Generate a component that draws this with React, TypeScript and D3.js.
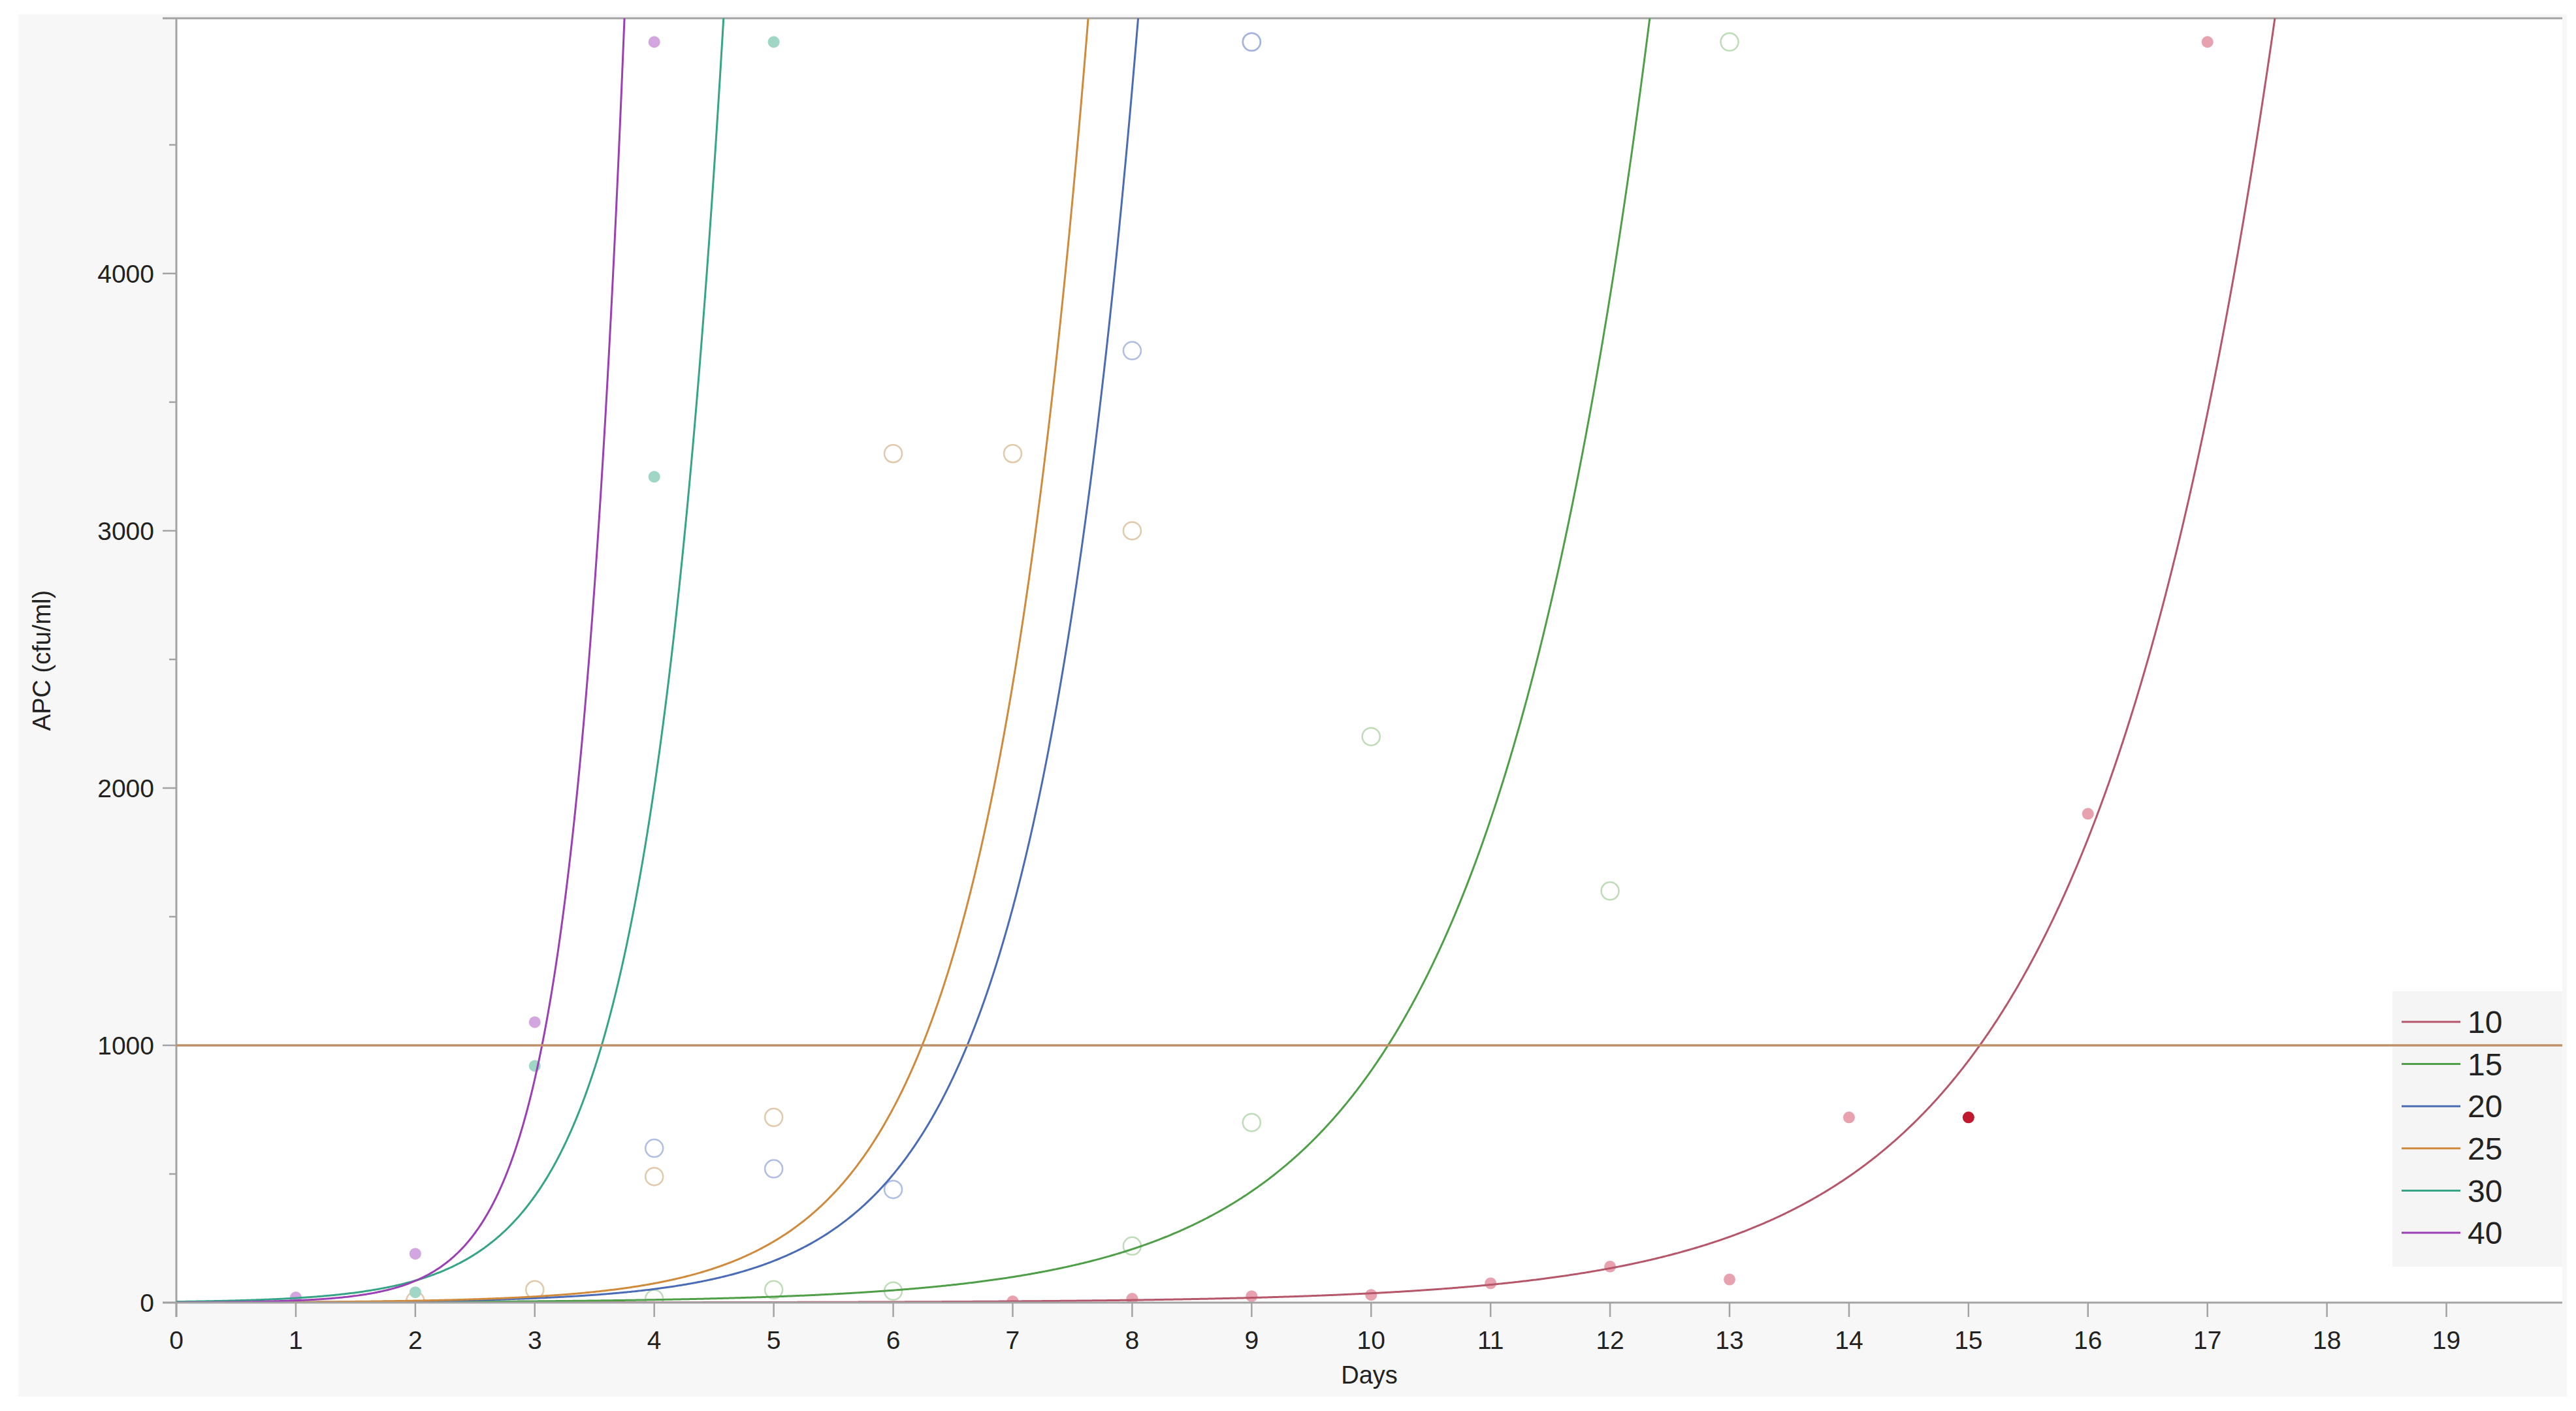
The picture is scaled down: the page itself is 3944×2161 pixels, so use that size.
import React, { useEffect } from "react";
import * as d3 from "d3";

// ---------- data ----------
const seriesNames = ["10", "15", "20", "25", "30", "40"];

const days10 = [7, 8, 9, 10, 11, 12, 13, 14, 15, 16, 17];
const apc10 = [5, 15, 25, 30, 75, 140, 90, 720, 720, 1900, 4900];
const highlightDay10 = 15;

const days15 = [4, 5, 6, 8, 9, 10, 12, 13];
const apc15 = [15, 50, 45, 220, 700, 2200, 1600, 4900];

const days20 = [4, 5, 6, 8, 9, 9];
const apc20 = [600, 520, 440, 3700, 4900, 4900];

const days25 = [2, 3, 4, 5, 6, 7, 8];
const apc25 = [8, 50, 490, 720, 3300, 3300, 3000];

const days30 = [1, 2, 3, 4, 5];
const apc30 = [5, 40, 920, 3210, 4900];

const days40 = [1, 2, 3, 4];
const apc40 = [20, 190, 1090, 4900];

// exponential fit parameters  APC = fitA * exp(fitB * day)
const fitA = [0.054, 0.585, 0.587, 0.73, 3.66, 0.8];
const fitB = [0.651, 0.734, 1.124, 1.157, 1.576, 2.33];

const refLineValue = 1000;
const xTicks = d3.range(0, 20);
const yMajorTicks = [0, 1000, 2000, 3000, 4000];
const yMinorTicks = [500, 1500, 2500, 3500, 4500];

const xTitle = "Days";
const yTitle = "APC (cfu/ml)";

// ---------- styles ----------
const lineColors = ["#b5566a", "#4f9f48", "#4a6bb5", "#cf8a3c", "#35a487", "#9b3fb5"];
const pointColors = ["#e8a2af", "#b3d6ab", "#a3b3de", "#dcc09c", "#9fd6c6", "#d3a6e0"];
const pointFilled = [true, false, false, false, true, true];
const highlightColor = "#c0182c";

const W = 3944;
const H = 2161;
const plotL = 270;
const plotR = 3923;
const plotT = 28;
const plotB = 1995;
const font = "'Liberation Sans', Arial, sans-serif";

export default function App() {
  useEffect(() => {
    document.body.style.margin = "0";
    document.body.style.background = "#ffffff";
  }, []);

  const x = d3.scaleLinear().domain([0, 19.97]).range([plotL, plotR]);
  const y = d3.scaleLinear().domain([0, 4992]).range([plotB, plotT]);

  const daysAll = [days10, days15, days20, days25, days30, days40];
  const apcAll = [apc10, apc15, apc20, apc25, apc30, apc40];

  const sampleDays = d3.range(0, 19.97, 0.01);

  const curvePath = (i: number) => {
    const gen = d3
      .line<number>()
      .x((d) => x(d))
      .y((d) => y(Math.min(fitA[i] * Math.exp(fitB[i] * d), 6000)));
    return gen(sampleDays) || "";
  };

  const legendX = 3663;
  const legendY = 1518;
  const legendW = 260;
  const legendH = 422;
  const rowY0 = 1565;
  const rowStep = 64.6;

  return (
    <svg width={W} height={H} style={{ display: "block" }} xmlns="http://www.w3.org/2000/svg">
      <defs>
        <clipPath id="plotClip">
          <rect x={plotL} y={plotT} width={plotR - plotL} height={plotB - plotT} />
        </clipPath>
      </defs>
      {/* outer panel */}
      <rect x={28} y={22} width={3902} height={2117} fill="#f7f7f7" />
      {/* plot area */}
      <rect x={plotL} y={plotT} width={plotR - plotL} height={plotB - plotT} fill="#ffffff" />

      {/* axes */}
      <line x1={249} x2={plotR} y1={plotT} y2={plotT} stroke="#a3a3a3" strokeWidth={3} />
      <line x1={plotL} x2={plotL} y1={plotT} y2={plotB + 22} stroke="#a3a3a3" strokeWidth={3} />
      {yMajorTicks.map((t) => (
        <g key={"ym" + t}>
          <line x1={249} x2={plotL} y1={y(t)} y2={y(t)} stroke="#a3a3a3" strokeWidth={2.5} />
          <text
            x={236}
            y={y(t)}
            dy="0.36em"
            textAnchor="end"
            fontFamily={font}
            fontSize={39}
            fill="#222"
          >
            {t}
          </text>
        </g>
      ))}
      {yMinorTicks.map((t) => (
        <line key={"yn" + t} x1={259} x2={plotL} y1={y(t)} y2={y(t)} stroke="#a3a3a3" strokeWidth={2.5} />
      ))}
      {xTicks.map((t) => (
        <g key={"x" + t}>
          <line x1={x(t)} x2={x(t)} y1={plotB} y2={plotB + 22} stroke="#a3a3a3" strokeWidth={2.5} />
          <text
            x={x(t)}
            y={2052}
            dy="0.36em"
            textAnchor="middle"
            fontFamily={font}
            fontSize={39}
            fill="#222"
          >
            {t}
          </text>
        </g>
      ))}
      <text x={(plotL + plotR) / 2} y={2105} dy="0.36em" textAnchor="middle" fontFamily={font} fontSize={38} fill="#222">
        {xTitle}
      </text>
      <text
        transform={`translate(63, ${(plotT + plotB) / 2}) rotate(-90)`}
        dy="0.36em"
        textAnchor="middle"
        fontFamily={font}
        fontSize={38}
        fill="#222"
      >
        {yTitle}
      </text>

      {/* points */}
      <g clipPath="url(#plotClip)">
        {seriesNames.map((name, i) =>
          daysAll[i].map((d, j) => {
            const v = apcAll[i][j];
            const isHi = i === 0 && d === highlightDay10;
            if (pointFilled[i]) {
              return (
                <circle
                  key={name + "-" + j}
                  cx={x(d)}
                  cy={y(v)}
                  r={9}
                  fill={isHi ? highlightColor : pointColors[i]}
                />
              );
            }
            return (
              <circle
                key={name + "-" + j}
                cx={x(d)}
                cy={y(v)}
                r={13.5}
                fill="none"
                stroke={pointColors[i]}
                strokeWidth={2.5}
                strokeOpacity={0.85}
              />
            );
          })
        )}
      </g>

      {/* fitted curves */}
      <g clipPath="url(#plotClip)">
        {seriesNames.map((name, i) => (
          <path key={"c" + name} d={curvePath(i)} fill="none" stroke={lineColors[i]} strokeWidth={3} />
        ))}
      </g>

      {/* x axis line */}
      <line x1={249} x2={plotR} y1={plotB} y2={plotB} stroke="#a3a3a3" strokeWidth={3} />

      {/* legend */}
      <rect x={legendX} y={legendY} width={legendW} height={legendH} fill="#f5f5f5" />
      {seriesNames.map((name, i) => (
        <g key={"lg" + name}>
          <line
            x1={3677}
            x2={3767}
            y1={rowY0 + i * rowStep}
            y2={rowY0 + i * rowStep}
            stroke={lineColors[i]}
            strokeWidth={3}
          />
          <text
            x={3778}
            y={rowY0 + i * rowStep}
            dy="0.36em"
            fontFamily={font}
            fontSize={48}
            fill="#222"
          >
            {name}
          </text>
        </g>
      ))}

      {/* reference line */}
      <line
        x1={plotL}
        x2={plotR}
        y1={y(refLineValue)}
        y2={y(refLineValue)}
        stroke="#c09068"
        strokeWidth={3.5}
      />
    </svg>
  );
}
